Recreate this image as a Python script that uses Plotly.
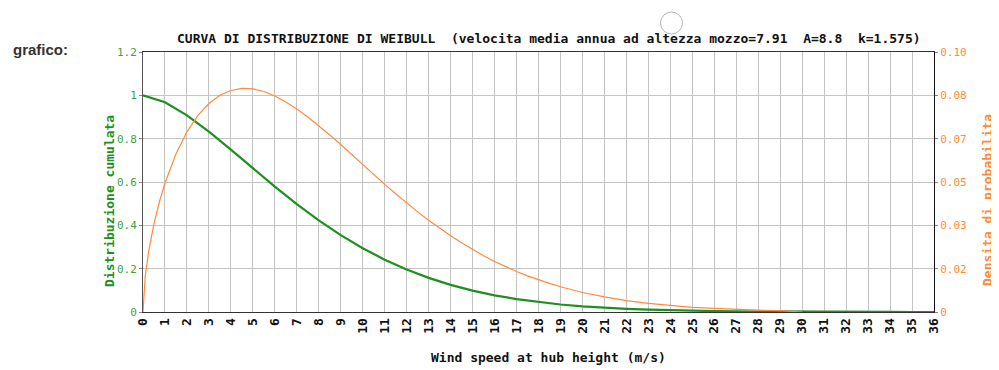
import plotly.graph_objects as go

# ---- data ----
speed_int = list(range(0, 37))
cumulata = [1.0, 0.968, 0.9076, 0.8323, 0.7491, 0.6633, 0.5787, 0.4979, 0.4229, 0.3549,
            0.2943, 0.2415, 0.1960, 0.1574, 0.1252, 0.0986, 0.0770, 0.0595, 0.0457, 0.0347,
            0.0262, 0.0196, 0.0145, 0.0107, 0.0078, 0.0056, 0.0041, 0.0029, 0.0021, 0.0014,
            0.0010, 0.0007, 0.0005, 0.0003, 0.0002, 0.0001, 0.0001]

speed_dens = [0, 0.1, 0.25, 0.5, 0.75, 1, 1.5, 2, 2.5, 3, 3.5, 4, 4.5, 5, 5.5, 6, 6.5, 7, 7.5, 8,
              8.5, 9, 9.5, 10, 10.5, 11, 11.5, 12, 12.5, 13, 13.5, 14, 14.5, 15, 15.5, 16,
              16.5, 17, 17.5, 18, 18.5, 19, 19.5, 20, 21, 22, 23, 24, 25, 26, 27, 28, 29, 30]
densita = [0, 0.0136, 0.0230, 0.0340, 0.0425, 0.0496, 0.0608, 0.0693, 0.0756, 0.0802, 0.0834,
           0.0852, 0.0860, 0.0858, 0.0848, 0.0831, 0.0808, 0.0781, 0.0750, 0.0717, 0.0681,
           0.0644, 0.0605, 0.0567, 0.0529, 0.0491, 0.0455, 0.0419, 0.0385, 0.0353, 0.0322,
           0.0293, 0.0266, 0.0240, 0.0216, 0.0194, 0.0174, 0.0156, 0.0139, 0.0123, 0.0110,
           0.0097, 0.0085, 0.0075, 0.0058, 0.0044, 0.0033, 0.0025, 0.0018, 0.0014, 0.0010,
           0.0007, 0.0005, 0.0]

x_ticks = list(range(0, 37))
left_tickvals = [0, 0.2, 0.4, 0.6, 0.8, 1.0, 1.2]
left_ticktext = ["0", "0.2", "0.4", "0.6", "0.8", "1", "1.2"]
right_tickvals = [0, 0.1 / 6, 0.2 / 6, 0.3 / 6, 0.4 / 6, 0.5 / 6, 0.1]
right_ticktext = ["0", "0.02", "0.03", "0.05", "0.07", "0.08", "0.10"]

title_text = "CURVA DI DISTRIBUZIONE DI WEIBULL  (velocita media annua ad altezza mozzo=7.91  A=8.8  k=1.575)"

GREEN = "#1f8f1f"
GREEN_LBL = "#3fa03f"
ORANGE = "#ff8a3d"
MONO = "DejaVu Sans Mono"

OFF = 8  # page body margin
W, H = 991, 362
L, T = 135, 44
PW, PH = 791, 260
R, B = W - L - PW, H - T - PH


def px(x):
    return (x - OFF - L) / PW


def py(y):
    return (T + PH - (y - OFF)) / PH


fig = go.Figure()
fig.add_trace(go.Scatter(x=speed_dens, y=densita, mode="lines", yaxis="y2",
                         line=dict(color=ORANGE, width=1.2), showlegend=False))
fig.add_trace(go.Scatter(x=speed_int, y=cumulata, mode="lines",
                         line=dict(color=GREEN, width=2.2), showlegend=False))

fig.update_layout(
    width=W, height=H,
    margin=dict(l=L, r=R, t=T, b=B, autoexpand=False),
    paper_bgcolor="white", plot_bgcolor="white",
    xaxis=dict(range=[0, 36], tickvals=x_ticks, ticktext=[str(v) for v in x_ticks],
               tickangle=-90, showgrid=True, gridcolor="#c4c4c4", gridwidth=1,
               showline=True, linecolor="#333", linewidth=1, mirror=True,
               zeroline=False, ticks="", ticklen=0,
               tickfont=dict(family=MONO, size=13, color="#111", weight="bold")),
    yaxis=dict(range=[0, 1.2], tickvals=left_tickvals, ticktext=left_ticktext,
               showgrid=True, gridcolor="#c4c4c4", gridwidth=1,
               showline=True, linecolor="#555", linewidth=1, zeroline=False,
               ticks="outside", ticklen=3, tickcolor="#888",
               tickfont=dict(family=MONO, size=11, color=GREEN_LBL)),
    yaxis2=dict(range=[0, 0.1], tickvals=right_tickvals, ticktext=right_ticktext,
                overlaying="y", side="right", showgrid=False,
                showline=True, linecolor="#111", linewidth=1, zeroline=False,
                ticks="outside", ticklen=3, tickcolor="#888",
                tickfont=dict(family=MONO, size=11, color=ORANGE)),
)

annotations = [
    dict(text=title_text, x=px(549), y=py(39), xref="paper", yref="paper",
         showarrow=False, xanchor="center", yanchor="middle",
         font=dict(family=MONO, size=13, color="#111", weight="bold")),
    dict(text="Wind speed at hub height (m/s)", x=px(548), y=py(357), xref="paper", yref="paper",
         showarrow=False, xanchor="center", yanchor="middle",
         font=dict(family=MONO, size=13, color="#111", weight="bold")),
    dict(text="Distribuzione cumulata", x=px(109), y=py(201), xref="paper", yref="paper",
         showarrow=False, xanchor="center", yanchor="middle", textangle=-90,
         font=dict(family=MONO, size=13, color=GREEN, weight="bold")),
    dict(text="Densita di probabilita", x=px(987), y=py(200), xref="paper", yref="paper",
         showarrow=False, xanchor="center", yanchor="middle", textangle=-90,
         font=dict(family=MONO, size=13, color=ORANGE, weight="bold")),
    dict(text="grafico:", x=px(11), y=py(49), xref="paper", yref="paper",
         showarrow=False, xanchor="left", yanchor="middle",
         font=dict(family="Liberation Sans", size=15, color="#333", weight="bold")),
]
fig.update_layout(annotations=annotations)

fig.add_shape(type="circle", xref="paper", yref="paper",
              x0=px(660.5), x1=px(682.5), y0=py(34), y1=py(12),
              line=dict(color="#b4b4c6", width=1))

fig.write_html("out.html")
